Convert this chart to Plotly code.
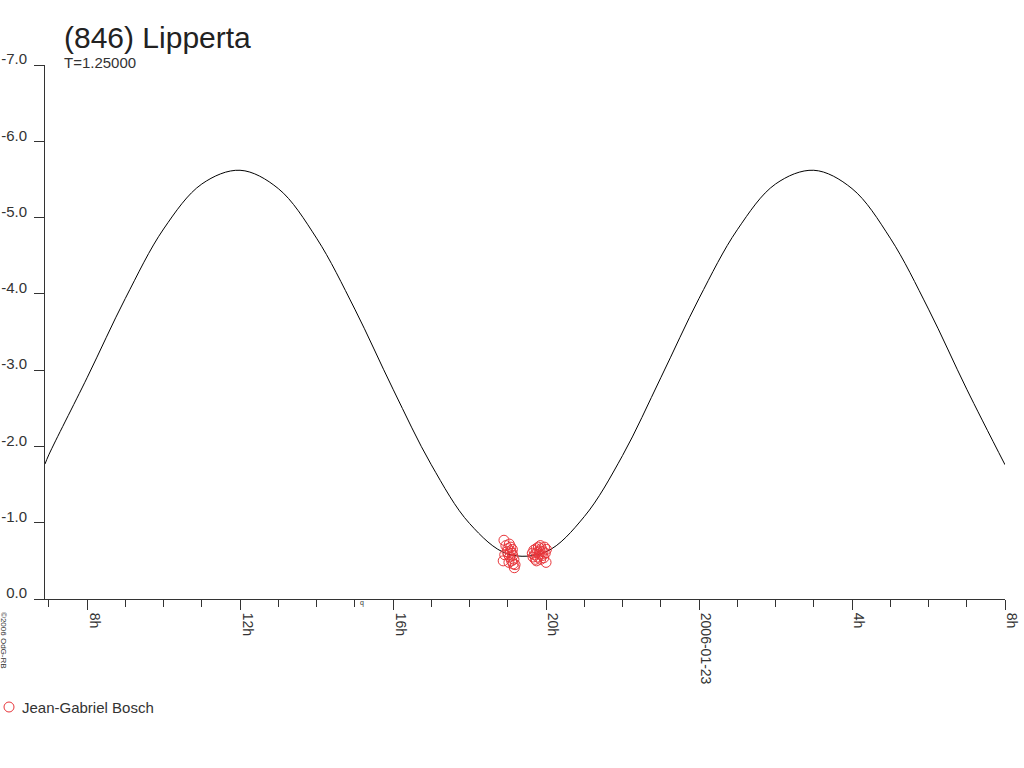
#!/usr/bin/env python3
"""Lightcurve plot for (846) Lipperta."""

import plotly.graph_objects as go

# fitted lightcurve (hours from 2006-01-22 0h, magnitude)
curve_hours = [6.9, 7, 8, 9, 10, 11, 12, 13, 14, 15, 16, 17, 18, 19, 20, 21, 22,
               23, 24, 25, 26, 27, 28, 29, 30, 31, 32]
curve_mag = [-1.77, -1.89, -2.90, -3.94, -4.85, -5.44, -5.62, -5.38, -4.73, -3.80,
             -2.75, -1.76, -0.99, -0.59, -0.62, -1.08, -1.88, -2.90, -3.94, -4.84,
             -5.44, -5.62, -5.38, -4.73, -3.80, -2.75, -1.76]

# observations
obs_hours = [18.88, 18.90, 18.92, 18.95, 18.98, 19.00, 19.02, 19.03, 19.04, 19.05,
             19.07, 19.08, 19.10, 19.11, 19.12, 19.13, 19.14, 19.16, 19.17, 19.19,
             19.64, 19.66, 19.68, 19.70, 19.72, 19.74, 19.75, 19.76, 19.78, 19.80,
             19.82, 19.84, 19.85, 19.86, 19.88, 19.90, 19.92, 19.94, 19.96, 19.98,
             20.00, 20.01]
obs_mag = [-0.50, -0.77, -0.58, -0.70, -0.62, -0.66, -0.58, -0.48, -0.72, -0.55,
           -0.63, -0.68, -0.50, -0.60, -0.65, -0.57, -0.46, -0.52, -0.41, -0.45,
           -0.60, -0.55, -0.64, -0.58, -0.52, -0.66, -0.50, -0.61, -0.55, -0.68,
           -0.59, -0.63, -0.70, -0.52, -0.66, -0.57, -0.62, -0.54, -0.68, -0.60,
           -0.48, -0.65]

x_tickvals = [8, 12, 16, 20, 24, 28, 32]
x_ticktext = ['8h', '12h', '16h', '20h', '2006-01-23', '4h', '8h']
y_tickvals = [0, -1, -2, -3, -4, -5, -6, -7]
y_ticktext = ['0.0', '-1.0', '-2.0', '-3.0', '-4.0', '-5.0', '-6.0', '-7.0']

AXIS = '#333333'
RED = '#e8353a'
FONT = 'Arial, Liberation Sans, sans-serif'

# plot area in pixels
PX_L, PX_R, PX_T, PX_B = 45, 1005, 65, 599


def px(x):
    return (x - PX_L) / (PX_R - PX_L)


def py(y):
    return (PX_B - y) / (PX_B - PX_T)


fig = go.Figure()
fig.add_trace(go.Scatter(
    x=curve_hours, y=curve_mag, mode='lines',
    line=dict(color='black', width=1, shape='spline'),
    showlegend=False, hoverinfo='skip'
))
fig.add_trace(go.Scatter(
    x=obs_hours, y=obs_mag, mode='markers', name='Jean-Gabriel Bosch',
    marker=dict(symbol='circle-open', size=10, color=RED, line=dict(width=1)),
    showlegend=False
))

fig.update_layout(
    width=1024, height=768,
    margin=dict(l=PX_L, r=1024 - PX_R, t=PX_T, b=768 - PX_B),
    paper_bgcolor='white', plot_bgcolor='white',
    font=dict(family=FONT, color=AXIS),
    xaxis=dict(
        range=[6.9, 32], showgrid=False, zeroline=False, automargin=False,
        showline=True, linecolor=AXIS, linewidth=1,
        tickmode='array', tickvals=x_tickvals, ticktext=x_ticktext,
        ticks='outside', ticklen=10, tickcolor=AXIS, tickangle=90,
        tickfont=dict(size=14, color=AXIS), ticklabelshift=7,
        minor=dict(tick0=0, dtick=1, ticks='outside', ticklen=7, tickcolor=AXIS)
    ),
    yaxis=dict(
        range=[0, -7], showgrid=False, zeroline=False, automargin=False,
        showline=True, linecolor=AXIS, linewidth=1,
        tickmode='array', tickvals=y_tickvals, ticktext=y_ticktext,
        ticks='outside', ticklen=10, tickcolor=AXIS,
        tickfont=dict(size=15, color=AXIS), ticklabelshift=6,
        ticklabelstandoff=4
    ),
)

fig.add_annotation(text='(846) Lipperta', xref='paper', yref='paper',
                   x=px(62), y=py(37), xanchor='left', yanchor='middle',
                   showarrow=False, font=dict(size=30, color='#222222'))
fig.add_annotation(text='T=1.25000', xref='paper', yref='paper',
                   x=px(62), y=py(63), xanchor='left', yanchor='middle',
                   showarrow=False, font=dict(size=15, color=AXIS))
fig.add_annotation(text='©2006 OdG-RB', xref='paper', yref='paper',
                   x=px(4), y=py(640), xanchor='center', yanchor='middle',
                   textangle=90, showarrow=False, font=dict(size=8, color=AXIS))
fig.add_annotation(text='q', xref='paper', yref='paper',
                   x=px(362), y=py(603), xanchor='center', yanchor='middle',
                   showarrow=False, font=dict(size=7, color=AXIS))

# legend drawn by hand so it sits at the far left like the original
fig.add_shape(type='circle', xref='paper', yref='paper',
              x0=px(4), x1=px(14), y0=py(712), y1=py(702),
              line=dict(color=RED, width=1))
fig.add_annotation(text='Jean-Gabriel Bosch', xref='paper', yref='paper',
                   x=px(20), y=py(707), xanchor='left', yanchor='middle',
                   showarrow=False, font=dict(size=15, color=AXIS))

# drop the browser's default body margin so the chart sits at the page corner
fig.write_html('out.html', config={'displayModeBar': False},
               post_script="document.body.style.margin='0';")
